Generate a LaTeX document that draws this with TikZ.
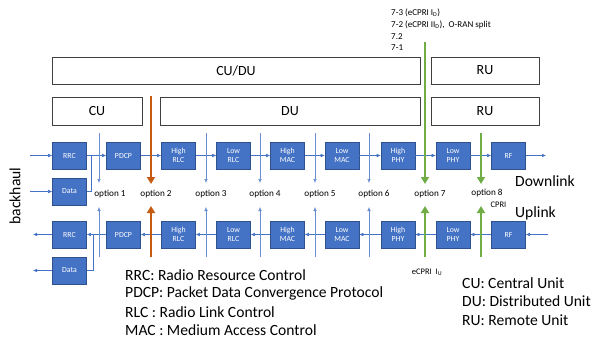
\documentclass[tikz,border=0pt]{standalone}
\usepackage{fontspec}
\setmainfont{Carlito}
\usetikzlibrary{arrows.meta}
\definecolor{blk}{HTML}{4472C4}
\definecolor{blkb}{HTML}{2F528F}
\definecolor{lnk}{HTML}{4472C4}
\definecolor{ornge}{HTML}{C55A11}
\definecolor{grn}{HTML}{70AD47}
\tikzset{
  blkbox/.style={draw=blkb, fill=blk, line width=0.6pt, minimum width=34pt, minimum height=27pt,
    inner sep=0pt, text=white, font=\fontsize{7.8}{9}\selectfont, align=center},
  unitbox/.style={draw=black!75, line width=0.7pt, inner sep=0pt, font=\fontsize{14}{16}\selectfont},
  flow/.style={draw=lnk, line width=0.5pt, -{Latex[length=4pt,width=3.5pt]}},
  flowp/.style={draw=lnk, line width=0.5pt},
  optl/.style={draw=lnk!80, line width=0.5pt, -{Latex[length=4pt,width=3.5pt]}},
  optlab/.style={font=\fontsize{9.2}{11}\selectfont, text=black},
  thicko/.style={draw=ornge, line width=2.2pt, -{Triangle[length=7pt,width=8pt]}},
  thickg/.style={draw=grn, line width=2.2pt, -{Triangle[length=7pt,width=8pt]}},
  legend/.style={font=\fontsize{15.6}{18}\selectfont, anchor=west, inner sep=0pt},
  small/.style={font=\fontsize{9}{10}\selectfont, anchor=west, inner sep=0pt, text=black}
}
\begin{document}
\begin{tikzpicture}[x=1pt,y=-1pt]
\useasboundingbox (0,0) rectangle (595,341);
% unit boxes
\node[unitbox, minimum width=368pt, minimum height=27pt] (cudu) at (236,70.5) {CU/DU};
\node[unitbox, minimum width=108pt, minimum height=27pt] (ru1) at (485,70.5) {RU};
\node[unitbox, minimum width=90pt, minimum height=28pt] (cu) at (97,111) {CU};
\node[unitbox, minimum width=260pt, minimum height=28pt] (du) at (290,111) {DU};
\node[unitbox, minimum width=108pt, minimum height=28pt] (ru2) at (485,111) {RU};
% split labels
\node[small] (t1) at (391,13) {7-3 (eCPRI I\textsubscript{D})};
\node[small] (t2) at (391,25) {7-2 (eCPRI II\textsubscript{D}),\ \ O-RAN split};
\node[small] (t3) at (391,36.5) {7.2};
\node[small] (t4) at (391,48) {7-1};
% downlink blocks
\node[blkbox] (rrc1) at (69.5,155.5) {RRC};
\node[blkbox] (dat1) at (69.5,191.5) {Data};
\node[blkbox] (pdcp1) at (123.5,155.5) {PDCP};
\node[blkbox] (hrlc1) at (178.5,155.5) {High\\RLC};
\node[blkbox] (lrlc1) at (233.5,155.5) {Low\\RLC};
\node[blkbox] (hmac1) at (287.5,155.5) {High\\MAC};
\node[blkbox] (lmac1) at (342,155.5) {Low\\MAC};
\node[blkbox] (hphy1) at (398,155.5) {High\\PHY};
\node[blkbox] (lphy1) at (453,155.5) {Low\\PHY};
\node[blkbox] (rf1) at (508.5,155.5) {RF};
% uplink blocks
\node[blkbox] (rrc2) at (69.5,234.5) {RRC};
\node[blkbox] (dat2) at (69.5,270.5) {Data};
\node[blkbox] (pdcp2) at (123.5,234.5) {PDCP};
\node[blkbox] (hrlc2) at (178.5,234.5) {High\\RLC};
\node[blkbox] (lrlc2) at (233.5,234.5) {Low\\RLC};
\node[blkbox] (hmac2) at (287.5,234.5) {High\\MAC};
\node[blkbox] (lmac2) at (342,234.5) {Low\\MAC};
\node[blkbox] (hphy2) at (398,234.5) {High\\PHY};
\node[blkbox] (lphy2) at (453,234.5) {Low\\PHY};
\node[blkbox] (rf2) at (508.5,234.5) {RF};
% free ends
\coordinate (in1) at (30,155.5);
\coordinate (in2) at (30,191.5);
\coordinate (out1) at (546,155.5);
\coordinate (j1) at (91.5,155.5);
\coordinate (out2) at (33,234.5);
\coordinate (out3) at (33,270.5);
\coordinate (in3) at (548,234.5);
\coordinate (j2) at (93,234.5);
% downlink flow
\draw[flow] (in1) -- (rrc1.west);
\draw[flow] (in2) -- (dat1.west);
\draw[flow] (rrc1.east) -- (pdcp1.west);
\draw[flowp] (dat1.east) -| (j1);
\draw[flow] (pdcp1) -- (hrlc1);
\draw[flow] (hrlc1) -- (lrlc1);
\draw[flow] (lrlc1) -- (hmac1);
\draw[flow] (hmac1) -- (lmac1);
\draw[flow] (lmac1) -- (hphy1);
\draw[flow] (hphy1) -- (lphy1);
\draw[flow] (lphy1) -- (rf1);
\draw[flow] (rf1.east) -- (out1);
% uplink flow
\draw[flow] (in3) -- (rf2.east);
\draw[flow] (rf2) -- (lphy2);
\draw[flow] (lphy2) -- (hphy2);
\draw[flow] (hphy2) -- (lmac2);
\draw[flow] (lmac2) -- (hmac2);
\draw[flow] (hmac2) -- (lrlc2);
\draw[flow] (lrlc2) -- (hrlc2);
\draw[flow] (hrlc2) -- (pdcp2);
\draw[flow] (pdcp2.west) -- (rrc2.east);
\draw[flowp] (j2) |- (dat2.east);
\draw[flow] (rrc2.west) -- (out2);
\draw[flow] (dat2.west) -- (out3);
% option lines (thin)
\foreach \n/\x in {o1/99,o3/206,o4/260,o5/315,o6/369}{
  \coordinate (\n a) at (\x,133);
  \coordinate (\n b) at (\x,183);
  \coordinate (\n c) at (\x,257);
  \coordinate (\n d) at (\x,207);
  \draw[optl] (\n a) -- (\n b);
  \draw[optl] (\n c) -- (\n d);
}
% option 2 (orange)
\coordinate (o2a) at (151,96);
\coordinate (o2b) at (151,184);
\coordinate (o2c) at (151,257);
\coordinate (o2d) at (151,206);
\draw[thicko] (o2a) -- (o2b);
\draw[thicko] (o2c) -- (o2d);
% option 7 (green)
\coordinate (o7a) at (425,42);
\coordinate (o7b) at (425,184);
\coordinate (o7c) at (425,257);
\coordinate (o7d) at (425,206);
\draw[thickg] (o7a) -- (o7b);
\draw[thickg] (o7c) -- (o7d);
% option 8 (green)
\coordinate (o8a) at (481,133);
\coordinate (o8b) at (481,184);
\coordinate (o8c) at (481,257);
\coordinate (o8d) at (481,206);
\draw[thickg] (o8a) -- (o8b);
\draw[thickg] (o8c) -- (o8d);
% option labels
\node[optlab] (l1) at (110,194.5) {option 1};
\node[optlab] (l2) at (156,194.5) {option 2};
\node[optlab] (l3) at (211,194.5) {option 3};
\node[optlab] (l4) at (265,194.5) {option 4};
\node[optlab] (l5) at (320,194.5) {option 5};
\node[optlab] (l6) at (374,194.5) {option 6};
\node[optlab] (l7) at (430,194.5) {option 7};
\node[optlab] (l8) at (487,193) {option 8};
\node[optlab, font=\fontsize{8.5}{10}\selectfont] (cpri) at (498.5,205) {CPRI};
\node[optlab, font=\fontsize{8.5}{10}\selectfont] (ecu) at (427,272) {eCPRI\ \ I\textsubscript{U}};
% direction labels
\node[legend] (dl) at (515,181) {Downlink};
\node[legend] (ul) at (515,213) {Uplink};
\node[legend, rotate=90, anchor=center] (bh) at (15,196) {backhaul};
% legends
\node[legend] (g1) at (125,275) {RRC: Radio Resource Control};
\node[legend] (g2) at (125,293.5) {PDCP: Packet Data Convergence Protocol};
\node[legend] (g3) at (125,312) {RLC : Radio Link Control};
\node[legend] (g4) at (125,330.5) {MAC : Medium Access Control};
\node[legend] (g5) at (462,283) {CU: Central Unit};
\node[legend] (g6) at (462,301.5) {DU: Distributed Unit};
\node[legend] (g7) at (462,320) {RU: Remote Unit};
\end{tikzpicture}
\end{document}
